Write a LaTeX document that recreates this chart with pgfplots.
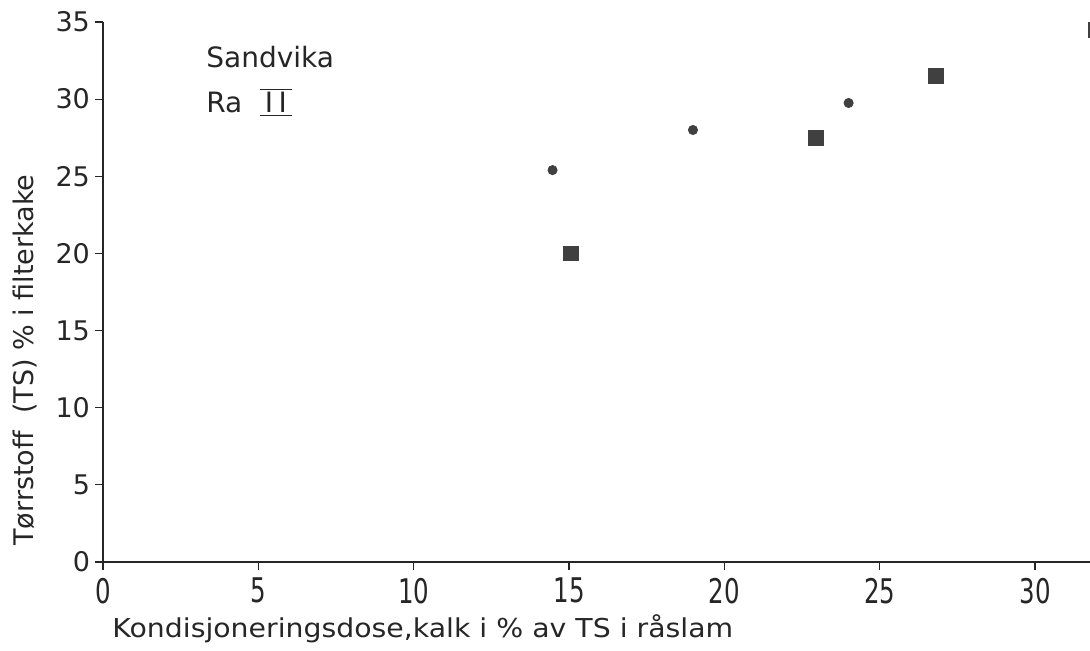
\documentclass[border=0pt]{standalone}
\usepackage{pgfplots}
\pgfplotsset{compat=1.18}
\usepackage{fontspec}
\setmainfont{DejaVu Sans}
\begin{document}
\begin{tikzpicture}
\begin{axis}[
  scale only axis, width=493.5pt, height=270pt,
  at={(0,0)}, anchor=south west,
  xmin=0, xmax=31.77, ymin=0, ymax=35,
  clip=false,
  axis lines*=left,
  axis line style={line width=0.8pt, color=black!85},
  xtick={0,5,...,30}, ytick={0,5,...,35},
  tick align=outside, major tick length=4pt,
  tick style={line width=0.6pt, black!85},
  xticklabel={\scalebox{0.72}[1]{\pgfmathprintnumber[assume math mode=true]{\tick}}},
  xticklabel style={font=\fontsize{17}{17}\selectfont, yshift=-0.5pt, text=black!85},
  yticklabel={\pgfmathprintnumber[assume math mode=true]{\tick}},
  yticklabel style={font=\fontsize{13.5}{14}\selectfont, xshift=1pt, text=black!85},
  xlabel={\scalebox{1.09}[1]{Kondisjoneringsdose,kalk i \% av TS i råslam}},
  xlabel style={font=\fontsize{13}{13}\selectfont, at={(axis description cs:0.324,-0.124)}, anchor=center, text=black!85},
  ylabel={Tørrstoff\ \ (TS) \% i filterkake},
  ylabel style={font=\fontsize{13.5}{14}\selectfont, at={(axis description cs:-0.079,0.374)}, anchor=center, text=black!85},
]
\addplot[only marks, mark=*, mark size=2.3pt, mark options={fill=black!75, draw=black!75}] coordinates {
  (14.47,25.4) (18.99,28.0) (24.0,29.75)
};
\addplot[only marks, mark=square*, mark size=3.7pt, mark options={fill=black!75, draw=black!75}] coordinates {
  (15.06,20.0) (22.95,27.5) (26.8,31.5) (31.95,34.5)
};
\node[anchor=west, font=\fontsize{14}{14}\selectfont, text=black!85] at (axis cs:3.1,32.75) {Sandvika};
\node[anchor=west, font=\fontsize{14}{14}\selectfont, text=black!85] at (axis cs:3.1,29.8) {Ra \ $\overline{\underline{\mbox{\,I\hspace{0.2em}I\,}}}$};
\end{axis}
\pgfresetboundingbox
\useasboundingbox (-51.5pt,-44.5pt) rectangle (493.5pt,281pt);
\end{tikzpicture}
\end{document}
